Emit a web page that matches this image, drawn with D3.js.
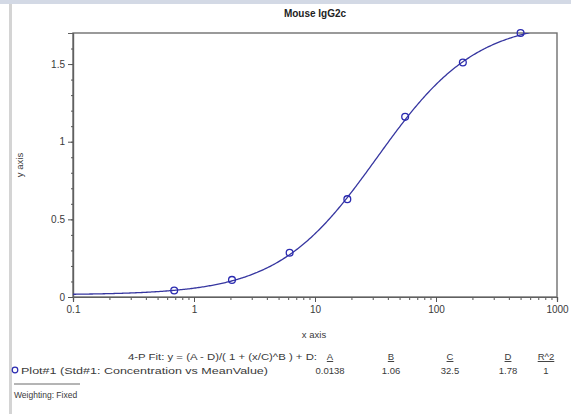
<!DOCTYPE html>
<html><head><meta charset="utf-8">
<script src="https://cdn.jsdelivr.net/npm/d3@7"></script>
<style>
html,body{margin:0;padding:0;background:#fff;}
svg{display:block;font-family:"Liberation Sans",Arial,sans-serif;}
</style></head>
<body>
<svg id="c" width="571" height="414"></svg>
<script>
// Data
const concentrations = [0.686, 2.06, 6.17, 18.5, 55.6, 166.7, 500];
const meanValues = [0.042, 0.11, 0.285, 0.63, 1.16, 1.51, 1.70];
const xTicks = [0.1, 1, 10, 100, 1000];
const xTickLabels = ["0.1", "1", "10", "100", "1000"];
const yTicks = [0, 0.5, 1, 1.5];
const yTickLabels = ["0", "0.5", "1", "1.5"];
const fitParamNames = ["A", "B", "C", "D", "R^2"];
const fitParamValues = [0.0138, 1.06, 32.5, 1.78, 1];
const fitParamLabels = ["0.0138", "1.06", "32.5", "1.78", "1"];

const svg = d3.select("#c");
const W = 571, H = 414;
const L = 73, R = 557, T = 33, B = 297;

// page decorations
svg.append("rect").attr("x",0).attr("y",0).attr("width",W).attr("height",4).attr("fill","#d3d9e5");
svg.append("rect").attr("x",9).attr("y",4).attr("width",3).attr("height",H-4).attr("fill","#d4d4d4");

const x = d3.scaleLog().domain([0.1, 1000]).range([L, R]);
const y = d3.scaleLinear().domain([0, 1.70]).range([B, T]);

const textCol = "#3a3a3a";

// title
svg.append("text").attr("x",(L+R)/2).attr("y",17).attr("text-anchor","middle")
  .attr("font-size",10).attr("font-weight","bold").attr("fill","#222").text("Mouse IgG2c");

// frame
svg.append("rect").attr("x",L).attr("y",T).attr("width",R-L).attr("height",B-T)
  .attr("fill","none").attr("stroke","#707070").attr("stroke-width",1.4);

// x axis
const xMinor = [];
for (let d=0.1; d<1000; d*=10) for (let k=2;k<=9;k++) xMinor.push(d*k);
const xa = svg.append("g").attr("transform",`translate(0,${B})`);
xa.call(d3.axisBottom(x).tickValues(xMinor).tickSize(3).tickFormat(""));
xa.append("g").call(d3.axisBottom(x).tickValues(xTicks).tickSize(5).tickPadding(4)
  .tickFormat((d,i)=>xTickLabels[i]));
xa.selectAll("path.domain").attr("stroke","#606060").attr("stroke-width",1.2);
xa.selectAll("line").attr("stroke","#555");
xa.selectAll("text").attr("font-size",10).attr("fill",textCol).attr("font-family","Liberation Sans, Arial");

// y axis
const yMinor = d3.range(0, 1.71, 0.1);
const ya = svg.append("g").attr("transform",`translate(${L},0)`);
ya.call(d3.axisLeft(y).tickValues(yMinor).tickSize(2).tickFormat(""));
ya.append("g").call(d3.axisLeft(y).tickValues(yTicks).tickSize(5).tickPadding(3)
  .tickFormat((d,i)=>yTickLabels[i]));
ya.selectAll("path.domain").attr("stroke","#606060").attr("stroke-width",1.2);
ya.selectAll("line").attr("stroke","#555");
ya.selectAll("text").attr("font-size",10).attr("fill",textCol).attr("font-family","Liberation Sans, Arial");

// axis titles
svg.append("text").attr("x",(L+R)/2 - 1).attr("y",338).attr("text-anchor","middle")
  .attr("font-size",9.5).attr("fill",textCol).text("x axis");
svg.append("text").attr("transform",`translate(23,${(T+B)/2}) rotate(-90)`).attr("text-anchor","middle")
  .attr("font-size",9.5).attr("fill",textCol).text("y axis");

// fit curve from displayed 4-P parameters
const [pA,pB,pC,pD] = fitParamValues;
const fit = v => (pA - pD)/(1 + Math.pow(v/pC, pB)) + pD;
const xs = d3.range(-1, 3.0001, 0.01).map(e => Math.pow(10, e));
svg.append("clipPath").attr("id","clip").append("rect")
  .attr("x",L).attr("y",T).attr("width",R-L).attr("height",B-T);
svg.append("path").datum(xs).attr("clip-path","url(#clip)")
  .attr("fill","none").attr("stroke","#3636a0").attr("stroke-width",1.3)
  .attr("d", d3.line().x(d=>x(d)).y(d=>y(fit(d))));

// points
svg.selectAll("circle.pt").data(concentrations).enter().append("circle")
  .attr("class","pt").attr("cx",d=>x(d)).attr("cy",(d,i)=>y(meanValues[i])).attr("r",3.4)
  .attr("fill","none").attr("stroke","#2a2ab0").attr("stroke-width",1.3);

// legend
const lg = svg.append("g").attr("font-size",9.5).attr("fill",textCol);
lg.append("text").attr("x",128).attr("y",360)
  .attr("textLength",189).attr("lengthAdjust","spacingAndGlyphs")
  .text("4-P Fit: y = (A - D)/( 1 + (x/C)^B ) + D:");
const colX = [330, 391, 450, 508, 546];
fitParamNames.forEach((n,i)=>{
  lg.append("text").attr("x",colX[i]).attr("y",360).attr("text-anchor","middle")
    .attr("text-decoration","underline").text(n);
  lg.append("text").attr("x",colX[i]).attr("y",374).attr("text-anchor","middle").text(fitParamLabels[i]);
});
lg.append("circle").attr("cx",15).attr("cy",370).attr("r",2.8).attr("fill","none")
  .attr("stroke","#2a2ab0").attr("stroke-width",1.2);
lg.append("text").attr("x",21).attr("y",374)
  .attr("textLength",247).attr("lengthAdjust","spacingAndGlyphs")
  .text("Plot#1 (Std#1: Concentration vs MeanValue)");
lg.append("line").attr("x1",14).attr("x2",80).attr("y1",384).attr("y2",384).attr("stroke","#444").attr("stroke-width",0.8);
lg.append("text").attr("x",14).attr("y",398).attr("font-size",8.5).text("Weighting: Fixed");
</script>
</body></html>
